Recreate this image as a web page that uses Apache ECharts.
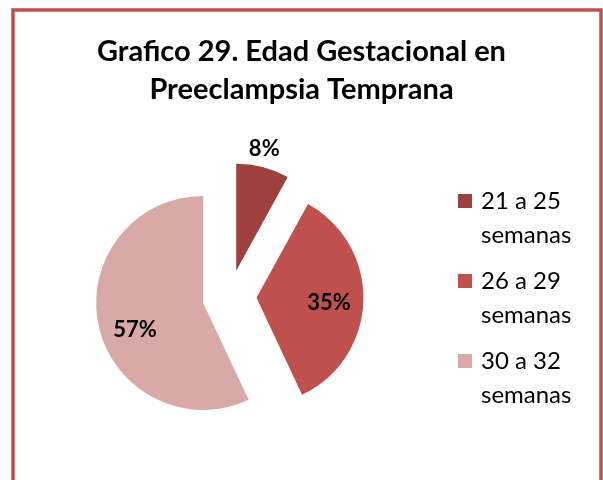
<!DOCTYPE html>
<html>
<head>
<meta charset="utf-8">
<script src="https://cdn.jsdelivr.net/npm/echarts@6/dist/echarts.min.js"></script>
<style>
  html, body { margin: 0; padding: 0; background: #fff; }
  #chart { width: 603px; height: 480px; }
</style>
</head>
<body>
<div id="chart"></div>
<script>
var titleText = 'Grafico 29. Edad Gestacional en\nPreeclampsia Temprana';
var categories = ['21 a 25\nsemanas', '26 a 29\nsemanas', '30 a 32\nsemanas'];
var values = [8, 35, 57];
var colors = ['#9E403E', '#C0504D', '#D9A9A8'];
// label nudges (px) so the labels sit where the Excel ones do
var labelShift = [[14, -67], [16, 3], [-13, 15]];

var chart = echarts.init(document.getElementById('chart'));

// square marker in the top part of a taller box, so it lines up with the first text line
var legendIcon = 'path://M0,0H14V14H0Z M0,48H18V48H0Z';

var option = {
    animation: false,
    title: {
        text: titleText,
        left: 'center',
        top: 28,
        textStyle: {
            fontFamily: 'Lato',
            fontWeight: 'bold',
            fontSize: 29,
            lineHeight: 38,
            color: '#000'
        }
    },
    legend: {
        orient: 'vertical',
        left: 453,
        top: 179,
        itemWidth: 18,
        itemHeight: 48,
        itemGap: 12,
        icon: legendIcon,
        selectedMode: false,
        data: categories,
        textStyle: {
            fontFamily: 'Lato',
            fontSize: 24,
            lineHeight: 34,
            color: '#000'
        }
    },
    graphic: [{
        type: 'rect',
        silent: true,
        shape: { x: 13, y: 10, width: 588, height: 520 },
        style: { fill: null, stroke: '#C0504D', lineWidth: 3.5 }
    }],
    series: [{
        type: 'pie',
        center: [229.5, 297],
        radius: 107,
        startAngle: 90,
        clockwise: true,
        selectedMode: 'multiple',
        selectedOffset: 27,
        avoidLabelOverlap: false,
        silent: true,
        percentPrecision: 0,
        labelLine: { show: false },
        label: {
            position: 'inside',
            formatter: '{d}%',
            fontFamily: 'Lato',
            fontWeight: 'bold',
            fontSize: 22,
            color: '#000'
        },
        labelLayout: function (p) {
            var s = labelShift[p.dataIndex];
            return { dx: s[0], dy: s[1] };
        },
        data: categories.map(function (c, i) {
            return {
                name: c,
                value: values[i],
                selected: true,
                itemStyle: { color: colors[i] }
            };
        })
    }]
};

chart.setOption(option);
</script>
</body>
</html>
